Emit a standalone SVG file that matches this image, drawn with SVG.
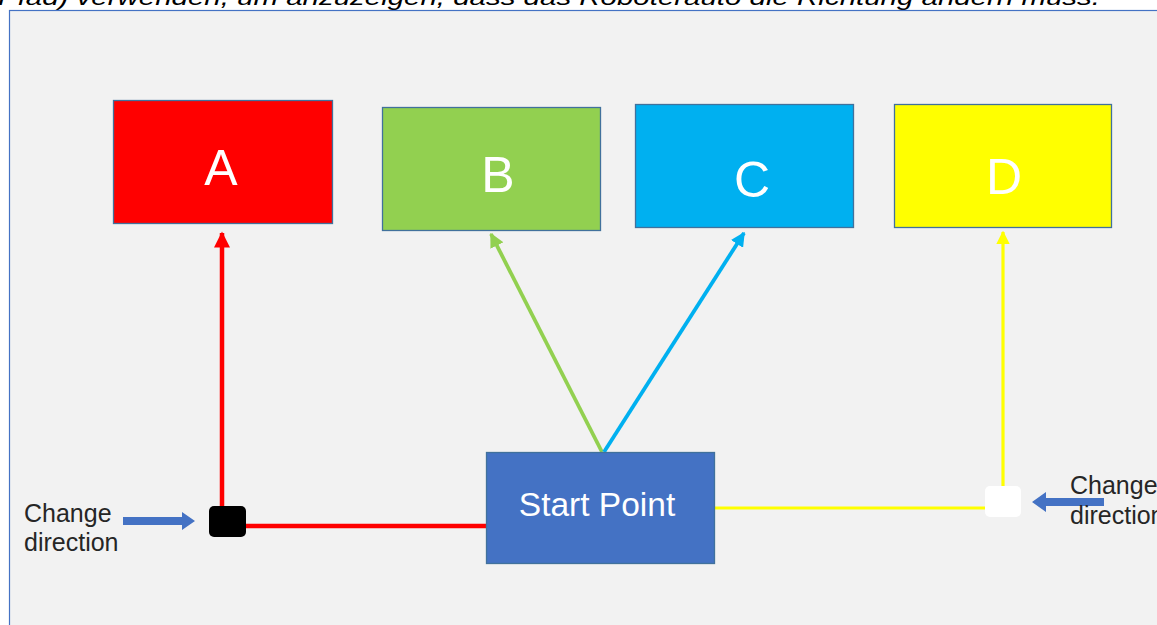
<svg xmlns="http://www.w3.org/2000/svg" width="1157" height="625" viewBox="0 0 1157 625">
  <defs>
    <style>
      .box { stroke: #41719c; stroke-width: 1.3; }
      .lbl { font-family: "Liberation Sans", Arial, sans-serif; fill: #ffffff; text-anchor: middle; }
      .note { font-family: "Liberation Sans", Arial, sans-serif; font-size: 25px; fill: #262626; }
      .wire { fill: none; }
    </style>
    <marker id="ahRed" viewBox="0 0 10 10" refX="9" refY="5" markerWidth="3.6" markerHeight="3.6" orient="auto" markerUnits="strokeWidth">
      <path d="M0,0 L10,5 L0,10 z" fill="#ff0000"/>
    </marker>
    <marker id="ahGreen" viewBox="0 0 10 10" refX="9" refY="5" markerWidth="3.8" markerHeight="3.8" orient="auto" markerUnits="strokeWidth">
      <path d="M0,0 L10,5 L0,10 z" fill="#92d050"/>
    </marker>
    <marker id="ahBlue" viewBox="0 0 10 10" refX="9" refY="5" markerWidth="3.8" markerHeight="3.8" orient="auto" markerUnits="strokeWidth">
      <path d="M0,0 L10,5 L0,10 z" fill="#00b0f0"/>
    </marker>
    <marker id="ahYellow" viewBox="0 0 10 10" refX="9" refY="5" markerWidth="4.2" markerHeight="4.2" orient="auto" markerUnits="strokeWidth">
      <path d="M0,0 L10,5 L0,10 z" fill="#ffff00"/>
    </marker>
  </defs>

  <!-- page background and the clipped caption line above the drawing -->
  <rect x="0" y="0" width="1157" height="625" fill="#ffffff"/>
  <text x="-2" y="5" font-family="'Liberation Sans', Arial, sans-serif" font-size="22" font-style="italic" fill="#000000" textLength="1102" lengthAdjust="spacingAndGlyphs">Pfad) verwenden, um anzuzeigen, dass das Roboterauto die Richtung ändern muss.</text>

  <!-- drawing canvas -->
  <rect x="9.5" y="10.5" width="1160" height="630" fill="#f2f2f2" stroke="#4472c4" stroke-width="1.2"/>

  <!-- connectors -->
  <g id="connectors">
    <polyline class="wire" points="486,526 222,526 222,233" stroke="#ff0000" stroke-width="4.5" marker-end="url(#ahRed)"/>
    <line x1="602" y1="452" x2="491" y2="234" stroke="#92d050" stroke-width="3.8" marker-end="url(#ahGreen)"/>
    <line x1="604" y1="452" x2="744" y2="233" stroke="#00b0f0" stroke-width="3.8" marker-end="url(#ahBlue)"/>
    <polyline class="wire" points="712,508 1003,508 1003,232" stroke="#ffff00" stroke-width="3.2" marker-end="url(#ahYellow)"/>
  </g>

  <g id="nodeA">
    <rect class="box" x="113.5" y="100.5" width="219" height="123" fill="#ff0000"/>
    <text class="lbl" x="221" y="185" font-size="50">A</text>
  </g>
  <g id="nodeB">
    <rect class="box" x="382.5" y="107.5" width="218" height="123" fill="#92d050"/>
    <text class="lbl" x="498" y="192" font-size="50">B</text>
  </g>
  <g id="nodeC">
    <rect class="box" x="635.5" y="104.5" width="218" height="123" fill="#00b0f0"/>
    <text class="lbl" x="752" y="197" font-size="50">C</text>
  </g>
  <g id="nodeD">
    <rect class="box" x="894.5" y="104.5" width="217" height="123" fill="#ffff00"/>
    <text class="lbl" x="1004" y="194" font-size="50">D</text>
  </g>

  <g id="start">
    <rect class="box" x="486.5" y="452.5" width="228" height="111" fill="#4472c4"/>
    <text class="lbl" x="597" y="516" font-size="33.5">Start Point</text>
  </g>

  <!-- direction-change markers -->
  <g id="turnLeft">
    <rect x="209" y="506" width="37" height="31" rx="5" fill="#000000"/>
    <path d="M123,517 L182,517 L182,512 L195,521 L182,530 L182,525 L123,525 z" fill="#4472c4"/>
    <text class="note" x="24" y="522">Change</text>
    <text class="note" x="24" y="551">direction</text>
  </g>
  <g id="turnRight">
    <rect x="985" y="486" width="36" height="31" rx="5" fill="#ffffff"/>
    <path d="M1104,498 L1046,498 L1046,492 L1032,502 L1046,512 L1046,506 L1104,506 z" fill="#4472c4"/>
    <text class="note" x="1070" y="494">Change</text>
    <text class="note" x="1070" y="524">direction</text>
  </g>
</svg>
